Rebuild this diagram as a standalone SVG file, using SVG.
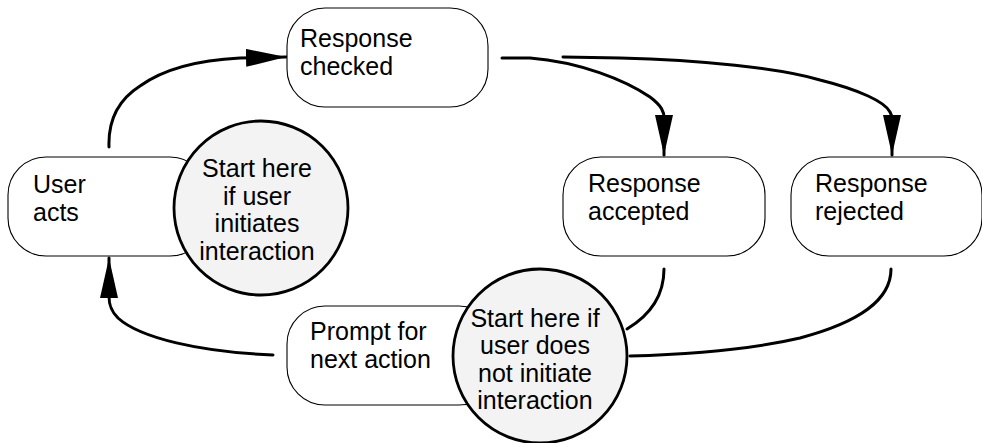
<svg xmlns="http://www.w3.org/2000/svg" width="982" height="443" viewBox="0 0 982 443">
  <style>
    .box { fill: #ffffff; stroke: #000000; stroke-width: 1.1; }
    .start { fill: #f3f3f3; stroke: #000000; stroke-width: 2.8; }
    .edge { fill: none; stroke: #000000; stroke-width: 3; stroke-linecap: round; stroke-linejoin: round; }
    text { font-family: "Liberation Sans", Arial, Helvetica, sans-serif; font-size: 25px; fill: #000000; }
    .c { text-anchor: middle; }
  </style>
  <defs>
    <marker id="head" markerUnits="userSpaceOnUse" markerWidth="42" markerHeight="20" refX="40" refY="9" orient="auto">
      <path d="M0,0 L40,9 L0,18 Z" fill="#000000"/>
    </marker>
  </defs>

  <rect width="982" height="443" fill="#ffffff"/>

  <!-- connectors -->
  <g id="connectors">
    <path class="edge" marker-end="url(#head)" d="M109,147 C108,120 118,100 140,86 C165,68 200,60 240,58 L286,57"/>
    <path class="edge" marker-end="url(#head)" d="M502,58 L530,58 C580,62 625,80 650,97 C662,106 664,112 664,118 L664,155"/>
    <path class="edge" marker-end="url(#head)" d="M563,57 L620,58 C700,60 780,68 820,80 C860,90 885,102 890,112 C892,116 892,118 892,118 L892,155"/>
    <path class="edge" marker-end="url(#head)" d="M273,355 C200,352 140,338 118,318 C110,310 109,303 109,296 L109,258"/>
    <path class="edge" d="M664,269 C664,295 652,314 627,329"/>
    <path class="edge" d="M891,269 C891,300 860,322 800,338 C740,352 670,355 630,356"/>
  </g>

  <!-- state boxes -->
  <g id="response-checked">
    <rect class="box" x="287" y="8" width="201" height="99" rx="38" ry="38"/>
    <text x="300" y="47">Response</text>
    <text x="300" y="74.5">checked</text>
  </g>

  <g id="user-acts">
    <rect class="box" x="8" y="157" width="200" height="99" rx="38" ry="38"/>
    <text x="33" y="193">User</text>
    <text x="33" y="220.5">acts</text>
  </g>

  <g id="response-accepted">
    <rect class="box" x="563" y="157" width="202" height="99" rx="38" ry="38"/>
    <text x="588" y="192">Response</text>
    <text x="588" y="219.5">accepted</text>
  </g>

  <g id="response-rejected">
    <rect class="box" x="791" y="157" width="191" height="99" rx="38" ry="38"/>
    <text x="815" y="192">Response</text>
    <text x="815" y="219.5">rejected</text>
  </g>

  <g id="prompt-next-action">
    <rect class="box" x="287" y="306" width="210" height="99" rx="38" ry="38"/>
    <text x="310" y="340">Prompt for</text>
    <text x="310" y="367.5">next action</text>
  </g>

  <!-- entry points -->
  <g id="start-user-initiates">
    <circle class="start" cx="261" cy="208" r="87"/>
    <text class="c" x="257" y="177">Start here</text>
    <text class="c" x="257" y="204.5">if user</text>
    <text class="c" x="257" y="232">initiates</text>
    <text class="c" x="257" y="259.5">interaction</text>
  </g>

  <g id="start-system-initiates">
    <circle class="start" cx="540" cy="356" r="87"/>
    <text class="c" x="535" y="326.5">Start here if</text>
    <text class="c" x="535" y="354">user does</text>
    <text class="c" x="535" y="381.5">not initiate</text>
    <text class="c" x="535" y="409">interaction</text>
  </g>
</svg>
